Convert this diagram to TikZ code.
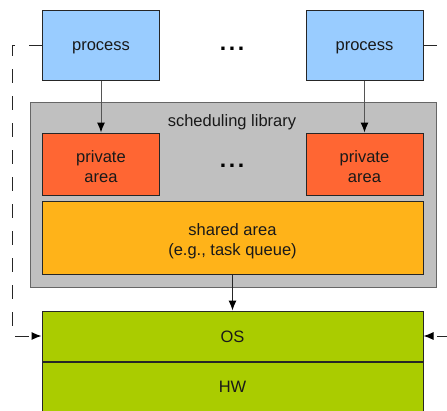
\documentclass[tikz,border=0pt]{standalone}
\usepackage{fontspec}
\setmainfont{Liberation Sans}
\usetikzlibrary{arrows.meta}
\definecolor{procblue}{HTML}{99CCFF}
\definecolor{privred}{HTML}{FF6633}
\definecolor{sharedor}{HTML}{FFB319}
\definecolor{osgreen}{HTML}{AACC00}
\definecolor{libgray}{HTML}{C0C0C0}
\definecolor{libborder}{HTML}{666666}
\definecolor{linegray}{HTML}{555555}
\tikzset{
  box/.style={draw=black!85, line width=1pt, inner sep=0pt},
  procbox/.style={box, fill=procblue, minimum width=117pt, minimum height=70pt},
  privbox/.style={box, fill=privred, minimum width=117pt, minimum height=62pt},
  sharedbox/.style={box, fill=sharedor, minimum width=381pt, minimum height=73pt},
  layerbox/.style={box, fill=osgreen, minimum width=381pt},
  libbox/.style={draw=libborder, fill=libgray, line width=1pt, inner sep=0pt, minimum width=406pt, minimum height=185pt},
  flow/.style={draw=linegray, line width=1pt, -{Latex[length=10pt,width=8pt,fill=black,color=black]}},
  ctrl/.style={draw=black!85, line width=1pt, dash pattern=on 13.5pt off 13.5pt, -{Latex[length=10pt,width=8pt,fill=black,color=black]}},
  dots/.style={font=\fontsize{23}{28}\selectfont\bfseries, inner sep=0pt, anchor=base},
  lbl/.style={font=\fontsize{16.5}{20}\selectfont, inner sep=0pt, align=center, text=black!90}
}
\newcommand{\mydots}{.\kern2.6pt.\kern2.6pt.}
\begin{document}
\begin{tikzpicture}[x=1pt,y=-1pt]
\useasboundingbox (0,0) rectangle (447,410);
\clip (0,0) rectangle (447,410);
% library container
\node[libbox] (lib) at (233,194.5) {};
\node[lbl, yshift=-2pt] (libl) at (232,120) {scheduling library};
% processes
\node[procbox] (p1) at (101,45) {};
\node[procbox] (p2) at (364.5,45) {};
\node[lbl, yshift=-3pt] (p1l) at (p1) {process};
\node[lbl, yshift=-3pt] (p2l) at (p2) {process};
\node[dots] (d1) at (232,50) {\mydots};
% private areas
\node[privbox] (a1) at (101,164) {};
\node[privbox] (a2) at (364.5,164) {};
\node[lbl, yshift=-2.5pt] (a1l) at (a1) {private\\area};
\node[lbl, yshift=-2.5pt] (a2l) at (a2) {private\\area};
\node[dots] (d2) at (232,167) {\mydots};
% shared
\node[sharedbox] (sh) at (232.5,237.5) {};
\node[lbl, yshift=-3.5pt] (shl) at (sh) {shared area\\(e.g., task queue)};
% OS and HW
\node[layerbox, minimum height=50pt] (os) at (232.5,336) {};
\node[lbl, yshift=-1pt] (osl) at (os) {OS};
\node[layerbox, minimum height=60pt, anchor=north] (hw) at (232.5,362) {};
\node[lbl] (hwl) at (232.5,387) {HW};
% arrows
\draw[flow] (p1.south) -- (a1.north);
\draw[flow] (p2.south) -- (a2.north);
\draw[flow, draw=black!85] (sh.south) -- (os.north);
% control paths
\draw[ctrl] (p1.west) -- ++(-30,0) |- (os.west);
\draw[ctrl] (p2.east) -- ++(30,0) |- (os.east);
\end{tikzpicture}
\end{document}
